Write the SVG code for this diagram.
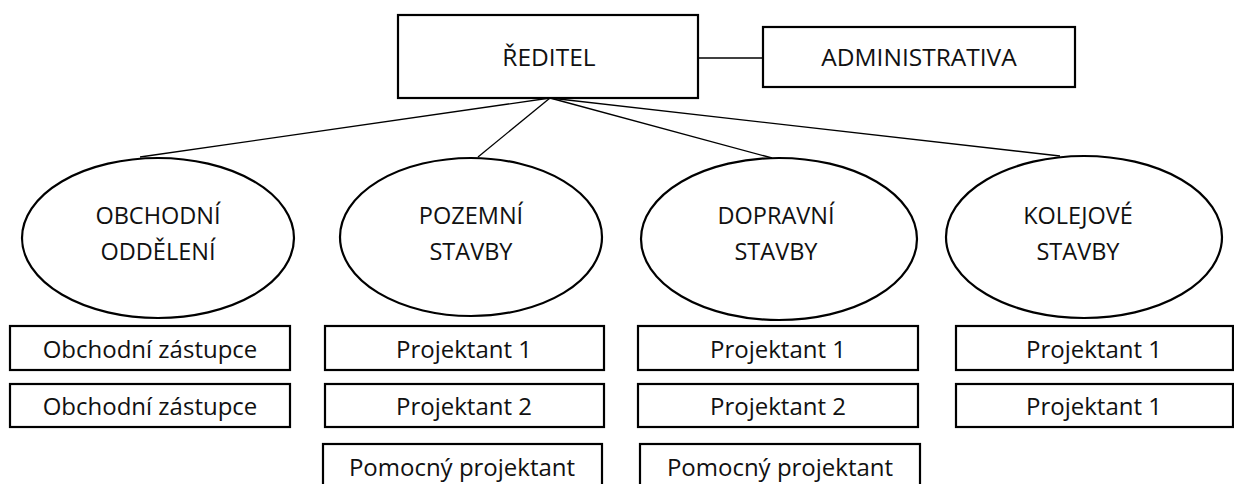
<svg xmlns="http://www.w3.org/2000/svg" width="1234" height="484" viewBox="0 0 1234 484">
<style>
.box{fill:#fff;stroke:#000;stroke-width:2.2}
.ell{fill:#fff;stroke:#000;stroke-width:2.2}
.con{stroke:#000;stroke-width:1.3;fill:none}
text{font-family:"Open Sans","Liberation Sans",sans-serif;fill:#111;text-anchor:middle}
.t{font-size:23.5px}
.h{font-size:24.5px}
.s{font-size:24px}
</style>
<rect width="1234" height="484" fill="#fff"/>
<g id="connectors">
<line class="con" x1="698" y1="58" x2="763" y2="58"/>
<line class="con" x1="550" y1="98" x2="140" y2="157"/>
<line class="con" x1="550" y1="98" x2="478" y2="157"/>
<line class="con" x1="550" y1="98" x2="772" y2="158"/>
<line class="con" x1="550" y1="98" x2="1060" y2="156"/>
</g>
<g id="reditel"><rect class="box" x="398" y="15" width="300" height="83"/><text class="h" x="549" y="66">ŘEDITEL</text></g>
<g id="administrativa"><rect class="box" x="763" y="27" width="312" height="60"/><text class="h" x="919" y="66">ADMINISTRATIVA</text></g>
<g id="obchodni"><ellipse class="ell" cx="158" cy="238" rx="136" ry="80"/><text class="t" x="158" y="224">OBCHODNÍ</text><text class="t" x="158" y="260">ODDĚLENÍ</text></g>
<g id="pozemni"><ellipse class="ell" cx="471" cy="237" rx="131" ry="79"/><text class="t" x="471" y="224">POZEMNÍ</text><text class="t" x="471" y="260">STAVBY</text></g>
<g id="dopravni"><ellipse class="ell" cx="779" cy="239" rx="138" ry="81"/><text class="t" x="776" y="224">DOPRAVNÍ</text><text class="t" x="776" y="260">STAVBY</text></g>
<g id="kolejove"><ellipse class="ell" cx="1084" cy="237" rx="138" ry="81"/><text class="t" x="1078" y="224">KOLEJOVÉ</text><text class="t" x="1078" y="260">STAVBY</text></g>
<g id="obch1"><rect class="box" x="10" y="326" width="280" height="44"/><text class="s" x="150" y="358">Obchodní zástupce</text></g>
<g id="obch2"><rect class="box" x="10" y="384" width="280" height="43"/><text class="s" x="150" y="415">Obchodní zástupce</text></g>
<g id="poz1"><rect class="box" x="325" y="326" width="279" height="44"/><text class="s" x="464" y="358">Projektant 1</text></g>
<g id="poz2"><rect class="box" x="325" y="384" width="279" height="43"/><text class="s" x="464" y="415">Projektant 2</text></g>
<g id="poz3"><rect class="box" x="323" y="444" width="279" height="50"/><text class="s" x="462" y="476">Pomocný projektant</text></g>
<g id="dop1"><rect class="box" x="638" y="326" width="280" height="44"/><text class="s" x="778" y="358">Projektant 1</text></g>
<g id="dop2"><rect class="box" x="638" y="384" width="280" height="43"/><text class="s" x="778" y="415">Projektant 2</text></g>
<g id="dop3"><rect class="box" x="640" y="444" width="280" height="50"/><text class="s" x="780" y="476">Pomocný projektant</text></g>
<g id="kol1"><rect class="box" x="956" y="326" width="277" height="44"/><text class="s" x="1094" y="358">Projektant 1</text></g>
<g id="kol2"><rect class="box" x="956" y="384" width="277" height="43"/><text class="s" x="1094" y="415">Projektant 1</text></g>
</svg>
